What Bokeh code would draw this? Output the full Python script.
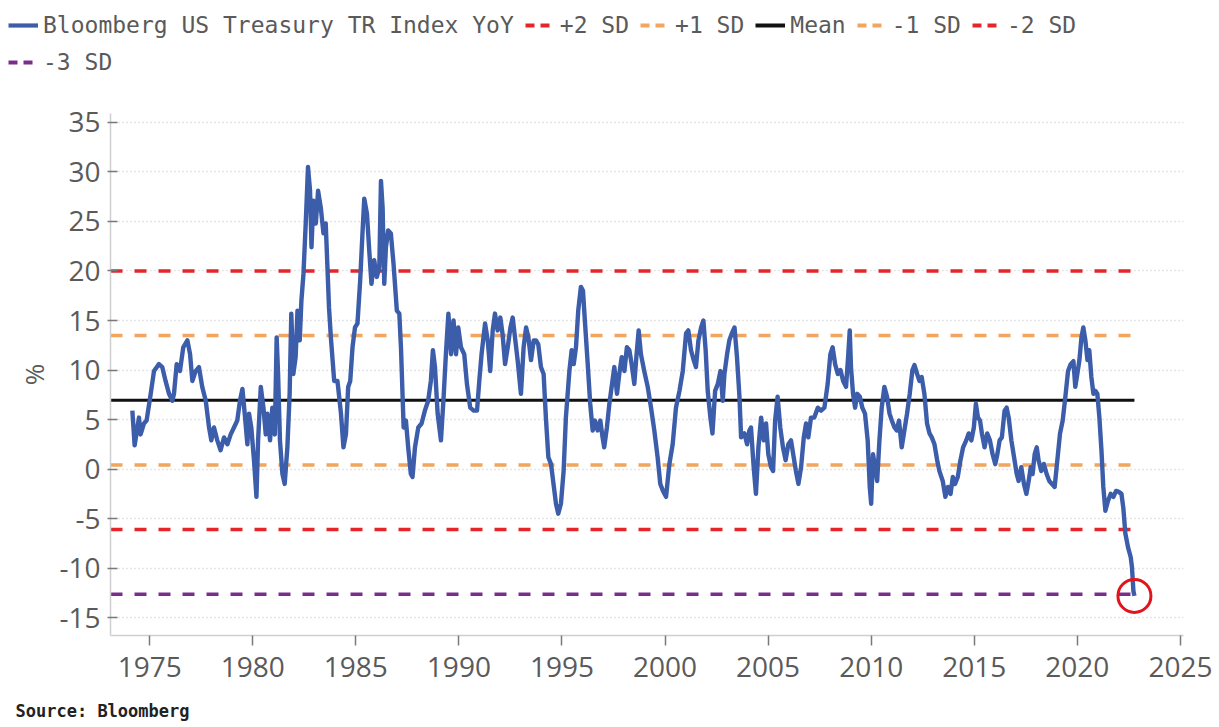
from bokeh.plotting import figure
from bokeh.layouts import column
from bokeh.models import Range1d, Legend, LegendItem, Label, FixedTicker, NumeralTickFormatter
from bokeh.embed import file_html
from bokeh.resources import INLINE

# ---- data ----
dates = [
    1974.16, 1974.27, 1974.48, 1974.56, 1974.72, 1974.85, 1975.05, 1975.21, 1975.45, 1975.61,
    1975.77, 1975.94, 1976.10, 1976.18, 1976.31, 1976.47, 1976.63, 1976.83, 1976.96, 1977.07,
    1977.23, 1977.39, 1977.55, 1977.72, 1977.88, 1977.99, 1978.12, 1978.28, 1978.44, 1978.61,
    1978.77, 1978.93, 1979.09, 1979.25, 1979.38, 1979.50, 1979.61, 1979.74, 1979.82, 1979.93,
    1980.06, 1980.18, 1980.26, 1980.39, 1980.52, 1980.63, 1980.71, 1980.84, 1980.95, 1981.07,
    1981.16, 1981.23, 1981.32, 1981.44, 1981.55, 1981.68, 1981.79, 1981.87, 1981.97, 1982.08,
    1982.17, 1982.28, 1982.36, 1982.46, 1982.57, 1982.68, 1982.78, 1982.85, 1982.94, 1983.06,
    1983.17, 1983.30, 1983.43, 1983.54, 1983.70, 1983.79, 1983.95, 1984.11, 1984.28, 1984.40,
    1984.52, 1984.63, 1984.73, 1984.84, 1984.96, 1985.08, 1985.21, 1985.33, 1985.41, 1985.54,
    1985.65, 1985.76, 1985.89, 1986.02, 1986.14, 1986.22, 1986.30, 1986.38, 1986.46, 1986.57,
    1986.70, 1986.83, 1986.99, 1987.11, 1987.19, 1987.32, 1987.43, 1987.54, 1987.67, 1987.75,
    1987.87, 1988.03, 1988.19, 1988.35, 1988.51, 1988.64, 1988.74, 1988.84, 1988.97, 1989.13,
    1989.26, 1989.37, 1989.49, 1989.62, 1989.74, 1989.86, 1989.97, 1990.10, 1990.26, 1990.39,
    1990.55, 1990.72, 1990.88, 1990.99, 1991.10, 1991.27, 1991.40, 1991.52, 1991.64, 1991.75,
    1991.88, 1992.01, 1992.12, 1992.24, 1992.37, 1992.50, 1992.61, 1992.72, 1992.85, 1993.01,
    1993.14, 1993.26, 1993.37, 1993.50, 1993.63, 1993.74, 1993.85, 1993.98, 1994.11, 1994.22,
    1994.34, 1994.47, 1994.59, 1994.71, 1994.82, 1994.95, 1995.08, 1995.19, 1995.36, 1995.47,
    1995.57, 1995.68, 1995.79, 1995.92, 1996.02, 1996.12, 1996.25, 1996.37, 1996.49, 1996.60,
    1996.73, 1996.86, 1996.97, 1997.05, 1997.18, 1997.30, 1997.41, 1997.54, 1997.67, 1997.78,
    1997.90, 1998.03, 1998.15, 1998.27, 1998.38, 1998.51, 1998.62, 1998.72, 1998.83, 1998.99,
    1999.16, 1999.32, 1999.48, 1999.64, 1999.77, 1999.90, 2000.05, 2000.21, 2000.37, 2000.53,
    2000.70, 2000.86, 2001.02, 2001.13, 2001.26, 2001.39, 2001.50, 2001.62, 2001.75, 2001.86,
    2001.97, 2002.07, 2002.20, 2002.30, 2002.43, 2002.56, 2002.69, 2002.80, 2002.88, 2003.01,
    2003.12, 2003.24, 2003.37, 2003.49, 2003.61, 2003.69, 2003.85, 2003.98, 2004.09, 2004.17,
    2004.30, 2004.41, 2004.53, 2004.66, 2004.79, 2004.90, 2005.01, 2005.14, 2005.24, 2005.34,
    2005.46, 2005.59, 2005.72, 2005.85, 2005.98, 2006.11, 2006.24, 2006.35, 2006.47, 2006.60,
    2006.73, 2006.84, 2006.95, 2007.08, 2007.24, 2007.41, 2007.57, 2007.73, 2007.89, 2008.02,
    2008.13, 2008.25, 2008.38, 2008.51, 2008.64, 2008.78, 2008.89, 2008.96, 2009.02, 2009.12,
    2009.22, 2009.32, 2009.45, 2009.57, 2009.70, 2009.83, 2009.93, 2010.00, 2010.09, 2010.19,
    2010.29, 2010.40, 2010.51, 2010.64, 2010.77, 2010.89, 2011.00, 2011.13, 2011.24, 2011.35,
    2011.48, 2011.61, 2011.74, 2011.87, 2012.00, 2012.10, 2012.23, 2012.34, 2012.45, 2012.58,
    2012.71, 2012.83, 2012.94, 2013.07, 2013.20, 2013.31, 2013.47, 2013.60, 2013.72, 2013.85,
    2013.96, 2014.07, 2014.20, 2014.33, 2014.46, 2014.61, 2014.73, 2014.86, 2014.98, 2015.08,
    2015.18, 2015.28, 2015.37, 2015.50, 2015.63, 2015.76, 2015.89, 2016.02, 2016.12, 2016.23,
    2016.34, 2016.47, 2016.57, 2016.67, 2016.80, 2016.93, 2017.06, 2017.15, 2017.28, 2017.41,
    2017.53, 2017.64, 2017.74, 2017.83, 2017.93, 2018.03, 2018.12, 2018.25, 2018.38, 2018.51,
    2018.64, 2018.77, 2018.90, 2019.03, 2019.16, 2019.29, 2019.42, 2019.55, 2019.68, 2019.81,
    2019.90, 2020.00, 2020.10, 2020.20, 2020.29, 2020.39, 2020.49, 2020.58, 2020.68, 2020.78,
    2020.87, 2020.97, 2021.07, 2021.17, 2021.26, 2021.36, 2021.49, 2021.62, 2021.75, 2021.88,
    2022.01, 2022.14, 2022.23, 2022.33, 2022.46, 2022.59, 2022.65, 2022.72, 2022.77,
]
yoy = [
    5.9, 2.4, 5.2, 3.5, 4.6, 4.9, 7.6, 9.9, 10.6, 10.3,
    8.9, 7.6, 6.9, 7.6, 10.6, 9.9, 12.3, 13.0, 11.6, 8.9,
    9.9, 10.3, 8.3, 6.9, 4.2, 2.9, 4.2, 2.9, 1.9, 3.2,
    2.5, 3.5, 4.2, 4.9, 6.9, 8.1, 5.6, 2.5, 5.6, 4.2,
    0.9, -2.8, 2.9, 8.3, 6.2, 3.5, 5.6, 2.9, 6.2, 3.5,
    13.3, 9.6, 2.9, -0.5, -1.5, 2.2, 7.6, 15.7, 9.6, 11.3,
    16.0, 13.0, 17.0, 19.7, 24.8, 30.5, 28.1, 22.4, 27.1, 24.8,
    28.1, 26.4, 23.8, 24.8, 16.3, 13.3, 8.9, 8.9, 5.6, 2.2,
    3.5, 8.3, 8.9, 12.3, 14.3, 14.7, 19.0, 24.1, 27.3, 25.8,
    22.1, 18.7, 21.1, 19.4, 20.4, 29.1, 26.4, 18.7, 22.4, 24.1,
    23.8, 20.7, 16.0, 15.7, 12.3, 4.2, 4.9, 2.2, -0.5, -0.8,
    2.2, 4.2, 4.6, 5.9, 6.9, 8.9, 12.0, 10.3, 5.6, 2.9,
    7.3, 11.6, 15.7, 11.6, 15.0, 11.6, 14.3, 12.3, 11.6, 8.6,
    6.2, 5.9, 5.9, 8.9, 11.6, 14.7, 13.0, 9.9, 14.0, 15.7,
    14.0, 15.3, 13.6, 10.6, 12.3, 14.3, 15.3, 13.3, 11.0, 7.6,
    12.3, 14.3, 13.3, 11.0, 13.0, 13.0, 12.6, 10.3, 9.6, 5.2,
    1.2, 0.5, -1.5, -3.5, -4.5, -3.5, -0.2, 5.2, 9.9, 12.0,
    10.6, 12.3, 16.0, 18.4, 18.0, 14.7, 10.6, 6.6, 3.9, 4.9,
    3.9, 4.9, 3.2, 2.2, 4.2, 6.6, 8.3, 10.3, 7.6, 9.6,
    11.3, 9.9, 12.3, 12.0, 10.6, 8.6, 11.6, 14.0, 11.6, 9.9,
    8.3, 6.2, 3.9, 1.2, -1.5, -2.2, -2.8, 0.5, 2.5, 6.2,
    7.9, 9.9, 13.7, 14.0, 12.0, 11.0, 10.3, 13.0, 14.3, 15.0,
    12.0, 7.9, 5.2, 3.6, 7.9, 8.6, 9.9, 6.9, 9.6, 11.6,
    13.0, 13.7, 14.3, 11.3, 7.3, 3.2, 3.6, 2.5, 3.9, 4.2,
    0.2, -2.5, 2.2, 5.2, 2.9, 4.6, 1.5, 0.2, -0.2, 4.9,
    7.3, 4.2, 2.2, 0.9, 2.5, 2.9, 1.2, -0.2, -1.5, 0.2,
    3.2, 4.6, 3.2, 5.2, 5.2, 6.2, 5.9, 6.2, 8.6, 11.6,
    12.3, 10.6, 9.6, 10.0, 8.9, 8.3, 11.6, 14.0, 10.3, 7.6,
    6.2, 7.6, 7.3, 6.2, 5.6, 2.9, -1.8, -3.5, 1.5, 0.2,
    -1.2, 2.9, 6.2, 8.3, 7.3, 5.6, 4.9, 4.2, 3.9, 4.9,
    2.2, 3.9, 5.6, 7.6, 10.0, 10.5, 9.6, 8.9, 9.3, 7.6,
    4.6, 3.6, 3.2, 2.5, 0.9, -0.2, -1.2, -2.8, -1.8, -2.5,
    -0.8, -1.5, -0.8, 0.9, 2.2, 2.9, 3.6, 2.9, 4.2, 6.6,
    5.2, 4.9, 3.6, 2.2, 3.6, 2.9, 1.5, 0.5, 1.5, 2.9,
    3.2, 5.9, 6.2, 5.2, 2.9, 1.2, -0.5, -1.2, 0.2, -1.5,
    -2.5, -1.2, 0.2, -0.5, 1.5, 2.2, 0.9, -0.2, 0.5, -0.5,
    -1.2, -1.5, -1.8, 0.9, 3.6, 4.9, 7.3, 9.9, 10.6, 10.9,
    8.3, 9.6, 11.0, 13.3, 14.3, 13.0, 11.0, 12.0, 9.3, 7.6,
    7.9, 7.6, 5.2, 1.9, -1.8, -4.2, -3.2, -2.5, -2.8, -2.2,
    -2.3, -2.5, -3.9, -6.5, -7.9, -8.9, -9.9, -12.3, -12.8,
]

mean_level = 6.95
plus2_sd = 20.0
plus1_sd = 13.48
minus1_sd = 0.42
minus2_sd = -6.1
minus3_sd = -12.64

x_ticks = [1975, 1980, 1985, 1990, 1995, 2000, 2005, 2010, 2015, 2020, 2025]
y_ticks = [-15, -10, -5, 0, 5, 10, 15, 20, 25, 30, 35]

series_name = "Bloomberg US Treasury TR Index YoY"
legend_labels = [series_name, "+2 SD", "+1 SD", "Mean", "-1 SD", "-2 SD", "-3 SD"]
source_text = "Source: Bloomberg"

# ---- styles ----
BLUE = "#3c5daa"
RED = "#e3262b"
ORANGE = "#f2a55e"
PURPLE = "#7a2e8c"
BLACK = "#111111"
TICK_FONT = "Open Sans"
LEG_FONT = "DejaVu Sans Mono"
DASH = "12 12"

styles = [
    dict(line_color=BLUE, line_width=4.4),
    dict(line_color=RED, line_width=3.5, line_dash=DASH),
    dict(line_color=ORANGE, line_width=3.5, line_dash=DASH),
    dict(line_color=BLACK, line_width=3),
    dict(line_color=ORANGE, line_width=3.5, line_dash=DASH),
    dict(line_color=RED, line_width=3.5, line_dash=DASH),
    dict(line_color=PURPLE, line_width=3.5, line_dash=DASH),
]
legend_styles = [
    dict(line_color=BLUE, line_width=4.2),
    dict(line_color=RED, line_width=4, line_dash="9 6"),
    dict(line_color=ORANGE, line_width=4, line_dash="9 6"),
    dict(line_color=BLACK, line_width=4),
    dict(line_color=ORANGE, line_width=4, line_dash="9 6"),
    dict(line_color=RED, line_width=4, line_dash="9 6"),
    dict(line_color=PURPLE, line_width=4, line_dash="9 6"),
]

LEG_H = 88
SRC_H = 30
TOTAL_W, TOTAL_H = 1219, 727
x_start, x_end = 1973.1, 2025.15


def strip(height):
    f = figure(width=TOTAL_W, height=height, output_backend="svg", toolbar_location=None,
               x_axis_location=None, y_axis_location=None,
               x_range=Range1d(0, 1), y_range=Range1d(0, 1), min_border=0)
    f.frame_align = False
    f.outline_line_color = None
    f.grid.grid_line_color = None
    return f


# ---- legend strip (top) ----
lf = strip(LEG_H)
# legend proxies: kept outside the visible range of this strip
leg_renderers = [lf.line([5, 6], [5, 6], **st) for st in legend_styles]
legend = Legend(
    items=[LegendItem(label=lab, renderers=[r]) for lab, r in zip(legend_labels, leg_renderers)],
    orientation="horizontal",
    ncols=6,
    location=(8, 13),
    padding=0, margin=0, spacing=11,
    label_standoff=5,
    glyph_width=30,
    label_text_font=LEG_FONT,
    label_text_font_size="23px",
    label_text_color="#5a5a5a",
    border_line_alpha=0,
    background_fill_alpha=0,
)
lf.add_layout(legend)

# ---- main chart ----
p = figure(
    width=TOTAL_W, height=TOTAL_H - LEG_H - SRC_H,
    output_backend="svg", toolbar_location=None,
    x_range=Range1d(x_start, x_end), y_range=Range1d(-16.8, 35.9),
    min_border_left=110, min_border_right=36, min_border_top=113 - LEG_H,
    min_border_bottom=92 - SRC_H,
)
p.frame_align = False
p.outline_line_color = None

for ax in (p.xaxis[0], p.yaxis[0]):
    ax.axis_line_color = "#cfcfcf"
    ax.axis_line_width = 1.5
    ax.major_tick_line_color = "#7a7a7a"
    ax.major_tick_line_width = 1.5
    ax.minor_tick_line_color = None
    ax.major_label_text_font = TICK_FONT
    ax.major_label_text_font_size = "28px"
    ax.major_label_text_color = "#5a5a5a"

p.xaxis.ticker = FixedTicker(ticks=x_ticks)
p.xaxis.major_tick_out = 10
p.xaxis.major_tick_in = 0
p.xaxis.major_label_standoff = 11

p.yaxis.ticker = FixedTicker(ticks=y_ticks)
p.yaxis.formatter = NumeralTickFormatter(format="0")
p.yaxis.major_tick_out = 3
p.yaxis.major_tick_in = 7
p.yaxis.major_label_standoff = 7
p.yaxis.axis_label = "%"
p.yaxis.axis_label_text_font = TICK_FONT
p.yaxis.axis_label_text_font_size = "26px"
p.yaxis.axis_label_text_font_style = "normal"
p.yaxis.axis_label_text_color = "#5a5a5a"
p.yaxis.axis_label_standoff = 4

p.xgrid.grid_line_color = None
p.ygrid.grid_line_color = "#cccccc"
p.ygrid.grid_line_dash = "1 3"
p.ygrid.grid_line_width = 1.5

ref_x = [x_start, dates[-1]]
for level, st in zip([plus2_sd, plus1_sd, mean_level, minus1_sd, minus2_sd, minus3_sd], styles[1:]):
    p.line(ref_x, [level, level], **st)

p.line(dates, yoy, line_join="round", **styles[0])

p.scatter([dates[-1]], [yoy[-1]], marker="circle", size=33, fill_alpha=0,
          line_color="#e0151b", line_width=3)

# ---- source strip (bottom) ----
sf = strip(SRC_H)
sf.add_layout(Label(x=15, y=17, x_units="screen", y_units="screen", text=source_text,
                    text_font=LEG_FONT, text_font_style="bold", text_font_size="17px",
                    text_color="#222222", text_baseline="middle"))

layout = column(lf, p, sf, spacing=0)
open("out.html", "w").write(file_html(layout, INLINE))
